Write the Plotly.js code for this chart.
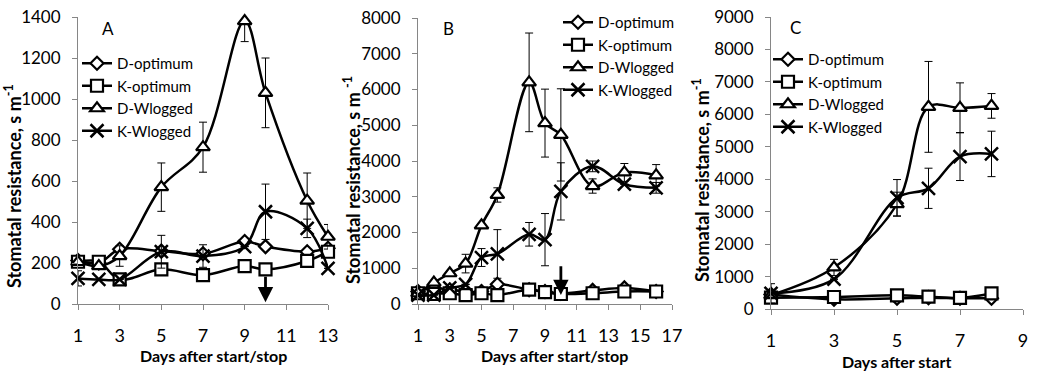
<!DOCTYPE html>
<html>
<head>
<meta charset="utf-8">
<script src="https://cdn.plot.ly/plotly-3.0.1.min.js"></script>
<style>html,body{margin:0;padding:0;background:#fff;}#chart{width:1037px;height:372px;}</style>
</head>
<body>
<div id="chart"></div>
<script>
// ---------- Data ----------
const seriesNames = ["D-optimum", "K-optimum", "D-Wlogged", "K-Wlogged"];

// Panel A
const daysA = [1, 2, 3, 5, 7, 9, 10, 12, 13];
const dOptA = [212, 200, 267, 258, 245, 305, 280, 255, 272];
const kOptA = [206, 206, 120, 169, 141, 185, 169, 210, 255];
const dWlogA = [205, 185, 234, 570, 765, 1380, 1030, 504, 328];
const dWlogErrA = [0, 0, 50, 118, 122, 100, 170, 135, 60];
const kWlogA = [125, 120, 120, 255, 234, 280, 450, 369, 174];
const kWlogErrA = [37, 0, 0, 80, 55, 0, 135, 45, 0];

// Panel B
const daysB = [1, 2, 3, 4, 5, 6, 8, 9, 10, 12, 14, 16];
const dOptB = [350, 450, 400, 350, 350, 550, 400, 350, 300, 380, 450, 350];
const kOptB = [300, 280, 300, 250, 300, 250, 400, 330, 280, 300, 350, 350];
const dWlogB = [300, 600, 860, 1130, 2200, 3050, 6200, 5060, 4730, 3300, 3680, 3600];
const dWlogErrB = [0, 0, 0, 260, 0, 200, 1380, 950, 1290, 200, 250, 300];
const kWlogB = [250, 250, 450, 550, 1300, 1400, 1950, 1800, 3150, 3850, 3350, 3250];
const kWlogErrB = [0, 0, 0, 0, 250, 680, 330, 730, 800, 150, 0, 150];

// Panel C
const daysC = [1, 3, 5, 6, 7, 8];
const dOptC = [450, 300, 330, 350, 330, 330];
const kOptC = [350, 370, 420, 380, 340, 480];
const dWlogC = [430, 1280, 3230, 6230, 6200, 6260];
const dWlogErrC = [0, 250, 370, 1400, 770, 380];
const kWlogC = [480, 920, 3430, 3720, 4700, 4780];
const kWlogErrC = [300, 0, 560, 620, 740, 700];

// Tick settings and titles
const xTicksA = [1, 3, 5, 7, 9, 11, 13];
const xTicksB = [1, 3, 5, 7, 9, 11, 13, 15, 17];
const xTicksC = [1, 3, 5, 7, 9];
const xTitleAB = "Days after start/stop";
const xTitleC = "Days after start";
const yTitle = "Stomatal resistance, s m<sup>-1</sup>";
const yTitleB = "Stomatal resistance, s m <sup>-1</sup>";

// ---------- Styles ----------
const symbols = ["diamond", "square", "triangle-up", "x-thin-open"];
const msizes = [10, 12, 12, 13];
const FONT = "Lato, 'Open Sans', sans-serif";

function mk(name, idx, x, y, err, xa, ya, leg) {
  const t = {
    type: "scatter", mode: "lines+markers", name: name,
    x: x, y: y, xaxis: xa, yaxis: ya, legend: leg, showlegend: true,
    cliponaxis: false,
    line: {color: "#000", width: 2.5, shape: "spline", smoothing: 1},
    marker: {symbol: symbols[idx], size: msizes[idx], color: idx === 3 ? "#000" : "#fff",
             line: {color: "#000", width: idx === 3 ? 2.5 : 2.2}}
  };
  if (err) {
    t.error_y = {type: "data", array: err, visible: true, color: "#000", thickness: 1, width: 4};
  }
  return t;
}

const traces = [
  mk(seriesNames[0], 0, daysA, dOptA, null, "x", "y", "legend"),
  mk(seriesNames[1], 1, daysA, kOptA, null, "x", "y", "legend"),
  mk(seriesNames[2], 2, daysA, dWlogA, dWlogErrA, "x", "y", "legend"),
  mk(seriesNames[3], 3, daysA, kWlogA, kWlogErrA, "x", "y", "legend"),
  mk(seriesNames[0], 0, daysB, dOptB, null, "x2", "y2", "legend2"),
  mk(seriesNames[1], 1, daysB, kOptB, null, "x2", "y2", "legend2"),
  mk(seriesNames[2], 2, daysB, dWlogB, dWlogErrB, "x2", "y2", "legend2"),
  mk(seriesNames[3], 3, daysB, kWlogB, kWlogErrB, "x2", "y2", "legend2"),
  mk(seriesNames[0], 0, daysC, dOptC, null, "x3", "y3", "legend3"),
  mk(seriesNames[1], 1, daysC, kOptC, null, "x3", "y3", "legend3"),
  mk(seriesNames[2], 2, daysC, dWlogC, dWlogErrC, "x3", "y3", "legend3"),
  mk(seriesNames[3], 3, daysC, kWlogC, kWlogErrC, "x3", "y3", "legend3")
];

const W = 1037, H = 372;
const px = v => v / W;
const py = v => (H - v) / H;

function xax(dom, range, ticks, anchor) {
  return {
    domain: dom, range: range, tickvals: ticks, anchor: anchor,
    showline: true, linecolor: "#868686", linewidth: 1,
    ticks: "outside", ticklen: 5, tickcolor: "#868686",
    ticklabelstandoff: 10, showgrid: false, zeroline: false,
    tickfont: {family: FONT, size: 18, color: "#000"}
  };
}
function yax(dom, range, dtick, anchor) {
  return {
    domain: dom, range: range, dtick: dtick, tick0: 0, anchor: anchor,
    showline: true, linecolor: "#868686", linewidth: 1,
    ticks: "outside", ticklen: 5, tickcolor: "#868686",
    ticklabelstandoff: 8, showgrid: false, zeroline: false,
    tickfont: {family: FONT, size: 17, color: "#000"}
  };
}

const legFont = {family: FONT, size: 15, color: "#000"};
function leg(x, y) {
  return {x: px(x), y: py(y), xanchor: "left", yanchor: "top", font: legFont, bgcolor: "rgba(0,0,0,0)", itemwidth: 30, tracegroupgap: 0};
}
function txt(t, x, y, size, bold, angle) {
  return {text: t, xref: "paper", yref: "paper", x: px(x), y: py(y), xanchor: "center", yanchor: "middle",
          textangle: angle || 0, showarrow: false,
          font: {family: FONT, size: size, color: "#000", weight: bold ? "bold" : "normal"}};
}

const layout = {
  width: W, height: H,
  margin: {l: 0, r: 0, t: 0, b: 0},
  paper_bgcolor: "#fff", plot_bgcolor: "rgba(0,0,0,0)",
  showlegend: true,
  xaxis: xax([px(78), px(328)], [1, 13], xTicksA, "y"),
  yaxis: yax([py(304), py(17)], [0, 1400], 200, "x"),
  xaxis2: xax([px(418), px(672)], [1, 17], xTicksB, "y2"),
  yaxis2: yax([py(304), py(18)], [0, 8000], 1000, "x2"),
  xaxis3: xax([px(771), px(1023)], [1, 9], xTicksC, "y3"),
  yaxis3: yax([py(309), py(17)], [0, 9000], 1000, "x3"),
  legend: leg(77, 47),
  legend2: leg(558, 6),
  legend3: leg(768, 43),
  annotations: [
    txt("A", 108, 28, 17, false),
    txt("B", 448, 28, 17, false),
    txt("C", 795, 27, 17, false),
    txt(xTitleAB, 213, 355, 16, true),
    txt(xTitleAB, 554, 355, 16, true),
    txt(xTitleC, 896, 361, 16, true),
    txt(yTitle, 13, 186, 18, true, -90),
    txt(yTitleB, 352, 180, 18, true, -90),
    txt(yTitle, 701, 180, 18, true, -90),
    {text: "", xref: "x", yref: "y", x: 10, y: 8, axref: "x", ayref: "y", ax: 10, ay: 140,
     showarrow: true, arrowhead: 2, arrowsize: 1.1, arrowwidth: 2.8, arrowcolor: "#000"},
    {text: "", xref: "x2", yref: "y2", x: 10, y: 250, axref: "x2", ayref: "y2", ax: 10, ay: 1100,
     showarrow: true, arrowhead: 2, arrowsize: 1.1, arrowwidth: 2.8, arrowcolor: "#000"}
  ]
};

Plotly.newPlot("chart", traces, layout, {staticPlot: true, displayModeBar: false});
</script>
</body>
</html>
